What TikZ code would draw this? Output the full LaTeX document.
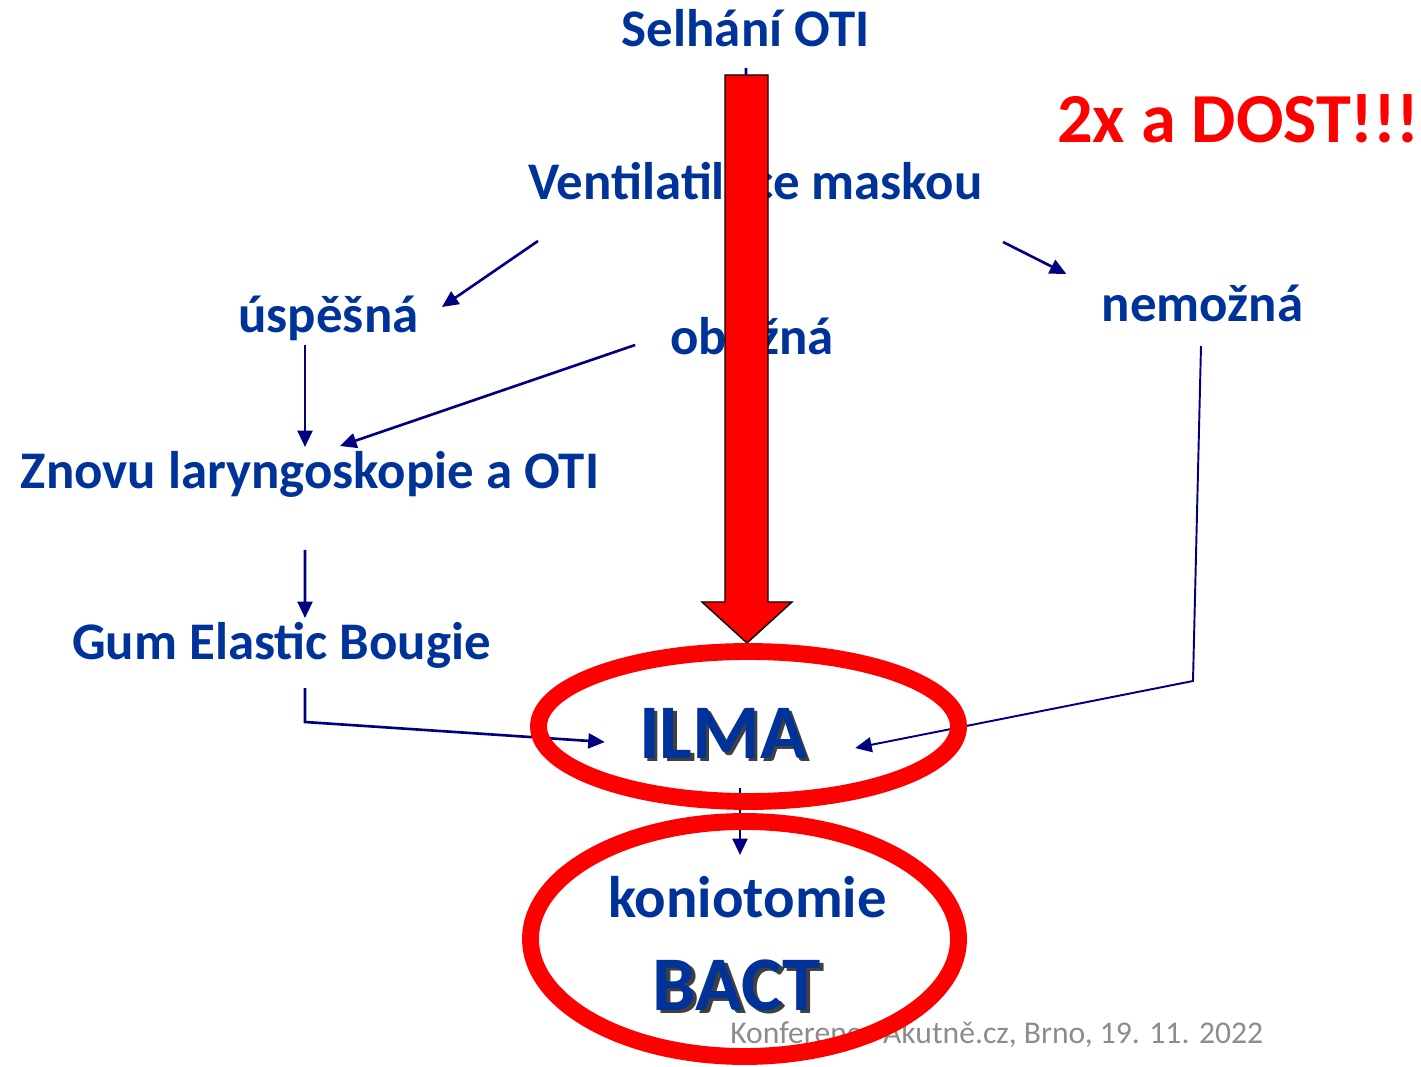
\documentclass[tikz,border=0pt]{standalone}
\usepackage{fontspec}
\setmainfont{Carlito}
\usetikzlibrary{arrows.meta,calc,positioning}
\definecolor{textblue}{RGB}{0,51,153}
\definecolor{linenavy}{RGB}{0,0,128}
\definecolor{footgray}{RGB}{140,140,140}
\tikzset{
    lbl/.style={inner sep=0pt, anchor=base, text=textblue,
        font=\fontsize{30.1}{31}\selectfont\bfseries},
    biglbl/.style={lbl, font=\fontsize{44}{45}\selectfont\bfseries},
    shadowlbl/.style={biglbl, text=black, opacity=.75},
    conn/.style={draw=linenavy, line width=1.5pt,
        -{Triangle[length=3.3mm, width=3mm]}},
    ring/.style={draw=red, line width=9.6pt},
}

\begin{document}
\begin{tikzpicture}[x=0.02cm, y=-0.02cm]
    \useasboundingbox (0,0) rectangle (1421,1067);

    % Draw the steps.
    \node[lbl] (selhani) at (745.5,47) {Selhání OTI};
    \node[lbl] (vent) at (755.5,200) {Ventilatilace maskou};
    \node[lbl] (usp) at (328.5,333) {úspěšná};
    \node[lbl] (obt) at (752,355) {obtížná};
    \node[lbl] (nem) at (1202.5,322) {nemožná};
    \node[lbl] (znovu) at (310,489) {Znovu laryngoskopie a OTI};
    \node[lbl] (gum) at (281.5,660) {Gum Elastic Bougie};
    \node[lbl, anchor=base west, text=red, font=\fontsize{40}{42}\selectfont\bfseries] (dost) at (1057,143) {2x a DOST!!!};

    % Draw ILMA and BACT with shadow.
    \node[shadowlbl] (ilmash) at (726.5,761.5) {ILMA};
    \node[biglbl] (ilma) at (723,758) {ILMA};
    \node[lbl, font=\fontsize{33.4}{35}\selectfont\bfseries] (koni) at (747.5,917) {koniotomie};
    \node[shadowlbl] (bactsh) at (740.5,1013.5) {BACT};
    \node[biglbl] (bact) at (737,1010) {BACT};

    % Draw footer.
    \node[inner sep=0pt, anchor=base west, text=footgray, font=\fontsize{18}{20}\selectfont] (foot) at (730,1043) {Konference Akutně.cz, Brno, 19. 11. 2022};

    % Draw arrows.
    \draw[conn] ($(selhani.base)+(0.5,21)$) -- ($(vent.base)+(-9.5,-50)$);
    \draw[conn] ($(vent.base west)+(10,41)$) -- ($(usp.base east)+(23,-26)$);
    \draw[conn] ($(vent.base east)+(20,42)$) -- ($(nem.base west)+(-35,-48)$);
    \draw[conn] ($(usp.base)+(-23.5,12)$) -- ($(znovu.base)+(-5,-42)$);
    \draw[conn] ($(obt.base west)+(-35,-10)$) -- ($(znovu.base)+(30,-43)$);
    \draw[conn] ($(znovu.base)+(-5,61)$) -- ($(gum.base)+(23.5,-42)$);
    \draw[conn] ($(gum.base)+(23.5,28)$) -- ($(gum.base)+(23.5,62)$) -- ($(ilma.base west)+(-34,-16)$);
    \draw[conn, line width=1.1pt] ($(nem.base)+(-1.5,24)$) -- ($(nem.base)+(-9.5,359)$) -- ($(ilma.base east)+(48,-10)$);
    \draw[conn] ($(ilma.base)+(17,30)$) -- ($(koni.base)+(-7.5,-62)$);

    % Draw big red arrow.
    \draw[fill=red, line width=0.8pt] (725,75) -- (768,75) -- (768,602) -- (792,602)
        -- (747,643) -- (702,602) -- (725,602) -- cycle;

    % Draw red rings.
    \draw[ring] (748.5,726.5) ellipse [x radius=210, y radius=75];
    \draw[ring] (744.5,939) ellipse [x radius=214, y radius=117.5];
\end{tikzpicture}
\end{document}
